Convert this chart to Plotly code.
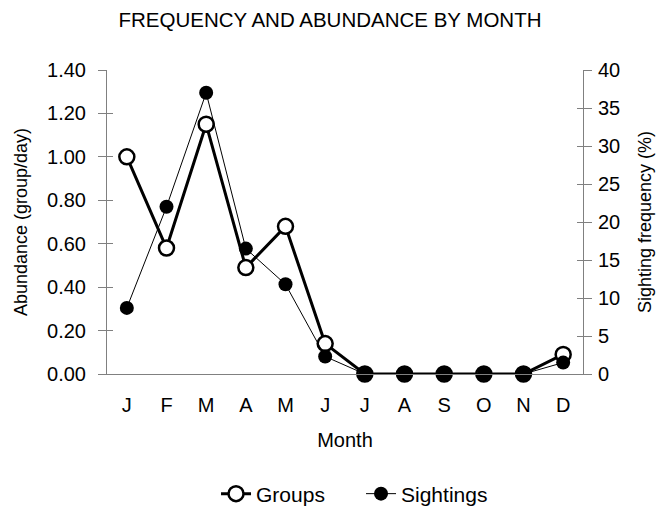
import plotly.graph_objects as go

months = ["J", "F", "M", "A", "M", "J", "J", "A", "S", "O", "N", "D"]
groups = [1.00, 0.58, 1.15, 0.49, 0.68, 0.14, 0.0, 0.0, 0.0, 0.0, 0.0, 0.09]
sightings = [8.7, 22.0, 37.0, 16.5, 11.8, 2.3, 0.0, 0.0, 0.0, 0.0, 0.0, 1.5]
left_ticks = [0.0, 0.2, 0.4, 0.6, 0.8, 1.0, 1.2, 1.4]
right_ticks = [0, 5, 10, 15, 20, 25, 30, 35, 40]

x = list(range(len(months)))
FONT = "Liberation Sans, Arial, sans-serif"
GRAY = "#808080"

fig = go.Figure()
fig.add_trace(go.Scatter(
    x=x, y=groups, name="Groups", mode="lines+markers",
    line=dict(color="black", width=3),
    marker=dict(symbol="circle", size=15, color="white", line=dict(color="black", width=2.5)),
    yaxis="y", cliponaxis=False,
))
fig.add_trace(go.Scatter(
    x=x, y=sightings, name="Sightings", mode="lines+markers",
    line=dict(color="black", width=1),
    marker=dict(symbol="circle", size=14, color="black"),
    yaxis="y2", cliponaxis=False,
))
# invisible helper traces to draw inner halves of crossing ticks
fig.add_trace(go.Scatter(x=[0], y=[0], yaxis="y3", showlegend=False, hoverinfo="skip",
                         mode="markers", marker=dict(opacity=0)))
fig.add_trace(go.Scatter(x=[0], y=[0], yaxis="y4", showlegend=False, hoverinfo="skip",
                         mode="markers", marker=dict(opacity=0)))

fig.update_layout(
    width=660, height=509,
    margin=dict(l=107, r=77, t=70, b=135),
    paper_bgcolor="white", plot_bgcolor="white",
    font=dict(family=FONT, color="black", size=20),
    title=dict(text="FREQUENCY AND ABUNDANCE BY MONTH", x=0.5, xanchor="center",
               xref="container", yref="container", y=1 - 20 / 509, yanchor="middle",
               font=dict(size=20.5, family=FONT)),
    xaxis=dict(
        range=[-0.5, 11.5], tickmode="array", tickvals=x, ticktext=months,
        showline=True, linecolor=GRAY, linewidth=1, ticks="outside", ticklen=13,
        tickcolor="rgba(0,0,0,0)", showgrid=False, automargin=False,
        zeroline=False, tickfont=dict(size=20),
        title=dict(text="Month", font=dict(size=20), standoff=17),
    ),
    yaxis=dict(
        range=[0, 1.4], tickmode="array", tickvals=left_ticks,
        ticktext=[f"{v:.2f}" for v in left_ticks], automargin=False,
        showline=True, linecolor=GRAY, linewidth=1, ticks="outside", ticklen=8,
        tickcolor=GRAY, showgrid=False, zeroline=False, tickfont=dict(size=20),
        ticklabelstandoff=8,
        title=dict(text="Abundance (group/day)", font=dict(size=18), standoff=14),
    ),
    yaxis2=dict(
        range=[0, 40], tickmode="array", tickvals=right_ticks,
        overlaying="y", side="right", automargin=False,
        showline=True, linecolor=GRAY, linewidth=1, ticks="outside", ticklen=8,
        tickcolor=GRAY, showgrid=False, zeroline=False, tickfont=dict(size=20),
        ticklabelstandoff=2,
        title=dict(text="Sighting frequency (%)", font=dict(size=18), standoff=19),
    ),
    yaxis3=dict(
        range=[0, 1.4], tickmode="array", tickvals=left_ticks, overlaying="y",
        side="left", showticklabels=False, showline=False, ticks="inside",
        ticklen=6, tickcolor=GRAY, showgrid=False, zeroline=False, automargin=False,
    ),
    yaxis4=dict(
        range=[0, 40], tickmode="array", tickvals=right_ticks, overlaying="y",
        side="right", showticklabels=False, showline=False, ticks="inside",
        ticklen=6, tickcolor=GRAY, showgrid=False, zeroline=False, automargin=False,
    ),
    legend=dict(orientation="h", x=0.547, xanchor="center", xref="container",
                y=(509 - 494) / 509, yref="container",
                yanchor="middle", font=dict(size=21), entrywidth=100, tracegroupgap=0),
    showlegend=True,
)

fig.write_html("out.html", config={"displayModeBar": False},
               post_script="document.body.style.margin='0';")
